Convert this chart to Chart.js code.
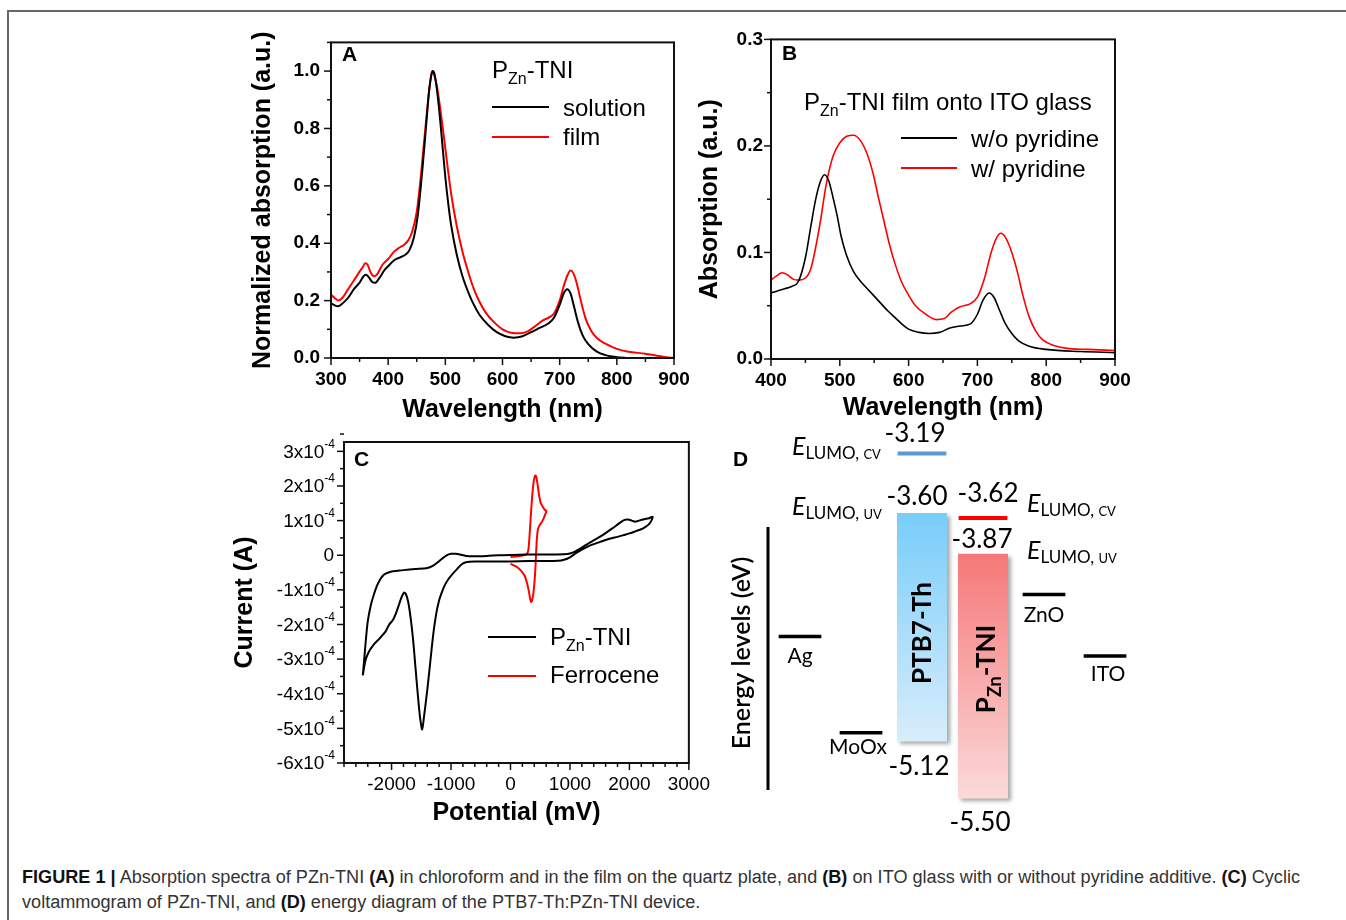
<!DOCTYPE html>
<html><head><meta charset="utf-8">
<script src="https://cdn.jsdelivr.net/npm/chart.js@4"></script>
<style>
html,body{margin:0;padding:0;background:#fff;}
body{width:1346px;height:920px;position:relative;overflow:hidden;font-family:"Liberation Sans",Arial,sans-serif;}
#frame{position:absolute;left:7px;top:10px;width:1345px;height:915px;border-top:2px solid #666;border-left:2px solid #666;}
canvas{position:absolute;}
.cap{position:absolute;left:22px;white-space:nowrap;font-size:18px;line-height:20px;color:#333;transform-origin:0 50%;font-family:"Liberation Sans Narrow","Liberation Sans",Arial,sans-serif;display:inline-block;}
.cap b{color:#111;}
</style></head><body>
<div id="frame"></div>
<canvas id="cA" width="480" height="415" style="left:220px;top:20px"></canvas>
<canvas id="cB" width="450" height="415" style="left:695px;top:20px"></canvas>
<canvas id="cC" width="495" height="410" style="left:225px;top:430px"></canvas>
<canvas id="cD" width="425" height="425" style="left:720px;top:415px"></canvas>
<div class="cap" id="cap1" style="top:867px"><b>FIGURE 1 |</b> Absorption spectra of PZn-TNI <b>(A)</b> in chloroform and in the film on the quartz plate, and <b>(B)</b> on ITO glass with or without pyridine additive. <b>(C)</b> Cyclic</div>
<div class="cap" id="cap2" style="top:892px">voltammogram of PZn-TNI, and <b>(D)</b> energy diagram of the PTB7-Th:PZn-TNI device.</div>
<script>
// ===== Panel A: normalized absorption =====
const solutionWavelength = [300,305,312,320,330,340,350,357,361,366,372,377,385,393,400,410,420,430,437,445,452,460,466,471,475,478,481,485,490,495,500,505,510,520,530,540,550,560,575,590,605,620,635,650,665,680,690,700,707,713,719,725,732,740,750,765,780,800,820];
const solutionAbs = [0.19,0.185,0.18,0.19,0.21,0.24,0.263,0.285,0.29,0.282,0.265,0.262,0.28,0.305,0.32,0.34,0.35,0.36,0.375,0.42,0.5,0.66,0.8,0.92,0.98,1.0,0.99,0.94,0.85,0.74,0.63,0.54,0.465,0.36,0.285,0.23,0.185,0.15,0.115,0.09,0.076,0.071,0.076,0.09,0.105,0.12,0.14,0.185,0.225,0.24,0.225,0.18,0.125,0.08,0.048,0.022,0.01,0.003,0];
const filmWavelength = [300,306,313,320,330,340,348,355,360,364,369,375,380,390,400,410,420,428,435,442,450,458,465,470,474,477,480,485,490,495,500,505,510,520,530,540,550,560,570,585,600,615,630,645,660,670,680,690,700,707,713,719,724,730,737,745,755,765,780,800,820,850,870,890,900];
const filmAbs = [0.22,0.21,0.2,0.21,0.24,0.27,0.295,0.315,0.33,0.325,0.3,0.285,0.29,0.325,0.345,0.37,0.385,0.395,0.41,0.44,0.51,0.65,0.8,0.9,0.97,1.0,0.99,0.95,0.885,0.81,0.73,0.65,0.575,0.46,0.37,0.3,0.24,0.195,0.16,0.125,0.1,0.088,0.086,0.094,0.115,0.13,0.14,0.155,0.2,0.25,0.285,0.305,0.295,0.26,0.2,0.14,0.095,0.07,0.05,0.032,0.022,0.015,0.008,0.002,0];
const ticksAX = [300,400,500,600,700,800,900];
const ticksAY = [0,0.2,0.4,0.6,0.8,1.0];

// ===== Panel B: absorption on ITO =====
const woPyWavelength = [400,410,420,430,440,450,458,465,472,478,484,490,496,502,510,520,530,540,550,560,570,580,590,600,615,630,645,660,675,690,700,708,717,724,732,740,750,760,775,800,850,900];
const woPyAbs = [0.062,0.064,0.066,0.068,0.073,0.095,0.125,0.15,0.167,0.173,0.167,0.152,0.135,0.115,0.097,0.082,0.073,0.066,0.059,0.052,0.045,0.039,0.033,0.028,0.025,0.024,0.025,0.029,0.031,0.033,0.042,0.055,0.062,0.058,0.046,0.034,0.024,0.017,0.012,0.009,0.007,0.006];
const wPyWavelength = [400,408,416,424,432,440,450,458,465,472,480,490,500,510,520,530,540,548,556,564,572,580,590,600,610,625,640,652,662,675,690,700,710,720,728,734,741,750,758,766,775,785,795,810,830,860,900];
const wPyAbs = [0.074,0.078,0.081,0.079,0.075,0.074,0.076,0.085,0.105,0.13,0.163,0.19,0.203,0.209,0.21,0.205,0.192,0.175,0.152,0.13,0.108,0.09,0.072,0.06,0.05,0.042,0.037,0.038,0.044,0.049,0.052,0.058,0.075,0.1,0.114,0.118,0.114,0.1,0.082,0.06,0.04,0.026,0.018,0.013,0.01,0.009,0.008];
const ticksBX = [400,500,600,700,800,900];
const ticksBY = [0,0.1,0.2,0.3];

// ===== Panel C: cyclic voltammetry =====
const pznPotential = [-2484,-2460,-2430,-2400,-2350,-2300,-2250,-2200,-2150,-2100,-2000,-1900,-1800,-1600,-1400,-1300,-1220,-1150,-1080,-1000,-920,-850,-750,-600,-400,-200,0,300,600,900,1000,1100,1200,1300,1400,1500,1600,1700,1780,1850,1920,1980,2040,2100,2160,2250,2330,2390,
  2370,2330,2270,2200,2100,2000,1900,1800,1700,1600,1500,1400,1300,1200,1100,1000,900,800,600,300,0,-300,-600,-750,-820,-900,-980,-1040,-1100,-1150,-1200,-1250,-1300,-1350,-1400,-1450,-1485,-1520,-1560,-1600,-1640,-1680,-1720,-1760,-1790,-1830,-1870,-1920,-1980,-2040,-2100,-2200,-2300,-2380,-2440,-2484];
const pznCurrent = [-3.47e-4,-3.0e-4,-2.4e-4,-1.9e-4,-1.45e-4,-1.15e-4,-0.9e-4,-0.72e-4,-0.6e-4,-0.53e-4,-0.47e-4,-0.45e-4,-0.43e-4,-0.4e-4,-0.37e-4,-0.3e-4,-0.2e-4,-0.1e-4,-0.01e-4,0.04e-4,0.04e-4,0.02e-4,-0.02e-4,-0.03e-4,-0.02e-4,0.0,0.01e-4,0.02e-4,0.02e-4,0.03e-4,0.05e-4,0.12e-4,0.22e-4,0.33e-4,0.43e-4,0.53e-4,0.64e-4,0.76e-4,0.86e-4,0.95e-4,1.02e-4,1.03e-4,1.0e-4,0.97e-4,1.0e-4,1.04e-4,1.07e-4,1.11e-4,
  1.0e-4,0.9e-4,0.82e-4,0.75e-4,0.69e-4,0.63e-4,0.58e-4,0.53e-4,0.49e-4,0.44e-4,0.38e-4,0.32e-4,0.25e-4,0.16e-4,0.06e-4,-0.06e-4,-0.13e-4,-0.16e-4,-0.17e-4,-0.17e-4,-0.18e-4,-0.18e-4,-0.18e-4,-0.2e-4,-0.26e-4,-0.4e-4,-0.55e-4,-0.68e-4,-0.85e-4,-1.05e-4,-1.3e-4,-1.7e-4,-2.3e-4,-3.1e-4,-3.9e-4,-4.6e-4,-5.03e-4,-4.7e-4,-4.0e-4,-3.2e-4,-2.4e-4,-1.8e-4,-1.35e-4,-1.12e-4,-1.08e-4,-1.2e-4,-1.4e-4,-1.65e-4,-1.88e-4,-2.0e-4,-2.2e-4,-2.4e-4,-2.58e-4,-2.78e-4,-3.05e-4,-3.47e-4];
const fcPotential = [0,120,220,275,300,318,335,352,370,392,415,432,455,480,510,550,585,604,585,540,495,462,445,432,420,405,385,360,345,330,310,285,240,180,100,0];
const fcCurrent = [-0.05e-4,-0.03e-4,0.0,0.04e-4,0.15e-4,0.5e-4,0.95e-4,1.4e-4,1.8e-4,2.15e-4,2.3e-4,2.28e-4,2.05e-4,1.75e-4,1.5e-4,1.38e-4,1.3e-4,1.28e-4,1.18e-4,1.0e-4,0.88e-4,0.75e-4,0.5e-4,0.1e-4,-0.35e-4,-0.75e-4,-1.1e-4,-1.32e-4,-1.35e-4,-1.25e-4,-1.05e-4,-0.85e-4,-0.6e-4,-0.45e-4,-0.33e-4,-0.25e-4];
const ticksCX = [-2000,-1000,0,1000,2000,3000];
const ticksCY = [-6e-4,-5e-4,-4e-4,-3e-4,-2e-4,-1e-4,0,1e-4,2e-4,3e-4];

// ===== Panel D: energy levels (eV) =====
const levelNames = ['Ag','MoOx','PTB7-Th','PZn-TNI','ZnO','ITO'];
const bandLUMO = [null,null,-3.60,-3.87,null,null];   // E_LUMO,UV
const bandHOMO = [null,null,-5.12,-5.50,null,null];
const electrodeLevel = [-4.41,-5.05,null,null,-4.13,-4.54];
const lumoCV = [null,null,-3.19,-3.62,null,null];

// ===== helpers =====
Chart.defaults.font.family = '"Liberation Sans", Arial, sans-serif';
Chart.defaults.color = '#000';
const pts = (xs, ys) => xs.map((x, i) => ({x, y: ys[i]}));
function rich(ctx, x, y, parts, align) {
  let w = 0;
  for (const p of parts) { ctx.font = p[1]; w += ctx.measureText(p[0]).width; }
  let cx = align === 'right' ? x - w : (align === 'center' ? x - w / 2 : x);
  ctx.textAlign = 'left';
  for (const p of parts) { ctx.font = p[1]; ctx.fillText(p[0], cx, y + (p[2] || 0)); cx += ctx.measureText(p[0]).width; }
  return w;
}
function seg(ctx, x1, y1, x2, y2, color, w) {
  ctx.beginPath(); ctx.strokeStyle = color; ctx.lineWidth = w; ctx.moveTo(x1, y1); ctx.lineTo(x2, y2); ctx.stroke();
}
function decorPlugin(o) {
  return {
    id: 'decor',
    afterDraw(chart) {
      const ctx = chart.ctx, a = chart.chartArea, xs = chart.scales.x, ys = chart.scales.y;
      ctx.save();
      ctx.strokeStyle = '#111'; ctx.lineWidth = 2;
      ctx.strokeRect(a.left, a.top, a.right - a.left, a.bottom - a.top);
      ctx.lineWidth = 1.5;
      const nx = Math.round((xs.max - o.xMinorStart) / o.xMinor + 1e-6);
      for (let i = 0; i <= nx; i++) {
        const v = o.xMinorStart + i * o.xMinor;
        const major = o.xTicks.some(t => Math.abs(t - v) < o.xMinor * 1e-3);
        const px = xs.getPixelForValue(v);
        seg(ctx, px, a.bottom, px, a.bottom + (major ? 7 : 4), '#111', 1.5);
      }
      const ny = Math.round((ys.max - o.yMinorStart) / o.yMinor + 1e-6);
      for (let i = 0; i <= ny; i++) {
        const v = o.yMinorStart + i * o.yMinor;
        const major = o.yTicks.some(t => Math.abs(t - v) < o.yMinor * 1e-3);
        const py = ys.getPixelForValue(v);
        seg(ctx, a.left, py, a.left - (major ? 7 : 4), py, '#111', 1.5);
      }
      ctx.translate(-o.ox, -o.oy);
      ctx.fillStyle = '#000'; ctx.textBaseline = 'alphabetic';
      if (o.extra) o.extra(ctx, chart, o.ox, o.oy);
      ctx.restore();
    }
  };
}
function lineChart(id, c) {
  return new Chart(document.getElementById(id), {
    type: 'scatter',
    data: {datasets: c.series.map(s => ({
      data: pts(s.x, s.y), borderColor: s.color, borderWidth: s.w, showLine: true,
      pointRadius: 0, pointHoverRadius: 0, fill: false,
      tension: s.tension, cubicInterpolationMode: s.mono ? 'monotone' : 'default'
    }))},
    options: {
      responsive: false, animation: false, devicePixelRatio: 1, events: [],
      layout: {padding: c.padding},
      plugins: {legend: {display: false}, tooltip: {enabled: false}},
      scales: {
        x: {
          type: 'linear', min: c.xMin, max: c.xMax,
          afterBuildTicks: s => { s.ticks = c.xTicks.map(v => ({value: v})); },
          afterFit: s => { s.height = c.xH; },
          grid: {display: false, drawTicks: false}, border: {display: false},
          ticks: {font: c.tickFont, color: '#000', padding: c.xPad, maxRotation: 0, minRotation: 0, autoSkip: false, callback: v => String(v)},
          title: {display: true, text: c.xTitle, font: {size: 25, weight: 'bold'}, color: '#000', padding: {top: 0, bottom: c.xTitlePad}}
        },
        y: {
          type: 'linear', min: c.yMin, max: c.yMax,
          afterBuildTicks: s => { s.ticks = c.yTicks.map(v => ({value: v})); },
          afterFit: s => { s.width = c.yW; },
          grid: {display: false, drawTicks: false}, border: {display: false},
          ticks: {display: c.yLabels !== false, font: c.tickFont, color: '#000', padding: c.yPad, autoSkip: false, callback: c.yFmt},
          title: {display: true, text: c.yTitle, font: {size: 25, weight: 'bold'}, color: '#000', padding: {top: c.yTitlePad, bottom: 0}}
        }
      }
    },
    plugins: [decorPlugin(c.decor)]
  });
}
const SUBF = '16px "Liberation Sans", Arial, sans-serif';
const LEGF = '24px "Liberation Sans", Arial, sans-serif';
const LETF = 'bold 21px "Liberation Sans", Arial, sans-serif';

// ===== Panel A =====
lineChart('cA', {
  series: [
    {x: solutionWavelength, y: solutionAbs, color: '#000', w: 2, tension: 0.4, mono: true},
    {x: filmWavelength, y: filmAbs, color: '#ff0000', w: 2, tension: 0.4, mono: true}
  ],
  padding: {left: 0, right: 26, top: 17, bottom: 0},
  xMin: 300, xMax: 900, yMin: 0, yMax: 1.1, xTicks: ticksAX, yTicks: ticksAY,
  xH: 77, yW: 111, xPad: 10, yPad: 11, tickFont: {size: 19, weight: 'bold'},
  yFmt: v => v.toFixed(1),
  xTitle: 'Wavelength (nm)', xTitlePad: 10, yTitle: 'Normalized absorption (a.u.)', yTitlePad: 28,
  decor: {ox: 220, oy: 20, xTicks: ticksAX, yTicks: ticksAY, xMinorStart: 300, xMinor: 50, yMinorStart: 0, yMinor: 0.1,
    extra(ctx) {
      ctx.font = LETF; ctx.fillText('A', 342, 61);
      rich(ctx, 492, 78, [['P', LEGF], ['Zn', SUBF, 6], ['-TNI', LEGF]]);
      seg(ctx, 492, 107, 549, 107, '#000', 2);
      seg(ctx, 492, 137, 549, 137, '#ff0000', 2);
      ctx.font = LEGF; ctx.fillText('solution', 563, 116); ctx.fillText('film', 563, 145);
    }}
});

// ===== Panel B =====
lineChart('cB', {
  series: [
    {x: woPyWavelength, y: woPyAbs, color: '#000', w: 1.6, tension: 0.4, mono: true},
    {x: wPyWavelength, y: wPyAbs, color: '#ff0000', w: 1.6, tension: 0.4, mono: true}
  ],
  padding: {left: 0, right: 30, top: 17, bottom: 0},
  xMin: 400, xMax: 900, yMin: 0, yMax: 0.3, xTicks: ticksBX, yTicks: ticksBY,
  xH: 76, yW: 76, xPad: 10, yPad: 8, tickFont: {size: 19, weight: 'bold'},
  yFmt: v => v.toFixed(1),
  xTitle: 'Wavelength (nm)', xTitlePad: 12, yTitle: 'Absorption (a.u.)', yTitlePad: 0,
  decor: {ox: 695, oy: 20, xTicks: ticksBX, yTicks: ticksBY, xMinorStart: 400, xMinor: 50, yMinorStart: 0, yMinor: 0.05,
    extra(ctx) {
      ctx.font = LETF; ctx.fillText('B', 782, 60);
      rich(ctx, 804, 110, [['P', LEGF], ['Zn', SUBF, 6], ['-TNI film onto ITO glass', LEGF]]);
      seg(ctx, 901, 138, 957, 138, '#000', 2);
      seg(ctx, 901, 168, 957, 168, '#ff0000', 2);
      ctx.font = LEGF; ctx.fillText('w/o pyridine', 971, 147); ctx.fillText('w/ pyridine', 971, 177);
    }}
});

// ===== Panel C =====
lineChart('cC', {
  series: [
    {x: pznPotential, y: pznCurrent, color: '#000', w: 2, tension: 0.25},
    {x: fcPotential, y: fcCurrent, color: '#ff0000', w: 2, tension: 0.25}
  ],
  padding: {left: 0, right: 25, top: 12, bottom: 0},
  xMin: -2800, xMax: 3000, yMin: -6e-4, yMax: 3.27e-4, xTicks: ticksCX, yTicks: ticksCY,
  xH: 77, yW: 119, xPad: 10, yPad: 10, tickFont: {size: 19}, yLabels: false,
  yFmt: v => v,
  xTitle: 'Potential (mV)', xTitlePad: 12, yTitle: 'Current (A)', yTitlePad: 5,
  decor: {ox: 225, oy: 430, xTicks: ticksCX, yTicks: ticksCY, xMinorStart: -2800, xMinor: 200, yMinorStart: -6e-4, yMinor: 0.5e-4,
    extra(ctx, chart, ox, oy) {
      const ys = chart.scales.y, a = chart.chartArea;
      const MF = '19px "Liberation Sans", Arial, sans-serif', SF = '12px "Liberation Sans", Arial, sans-serif';
      ctx.textBaseline = 'middle';
      for (const v of ticksCY) {
        const py = ys.getPixelForValue(v) + oy + 1;
        const n = Math.round(v * 1e4);
        if (n === 0) rich(ctx, a.left + ox - 10, py, [['0', MF]], 'right');
        else rich(ctx, a.left + ox - 9, py, [[n + 'x10', MF], ['-4', SF, -8]], 'right');
      }
      ctx.textBaseline = 'alphabetic';
      ctx.font = LETF; ctx.fillText('C', 354, 466);
      seg(ctx, 488, 637, 536, 637, '#000', 2);
      seg(ctx, 488, 676, 536, 676, '#ff0000', 2);
      rich(ctx, 550, 645, [['P', LEGF], ['Zn', SUBF, 6], ['-TNI', LEGF]]);
      ctx.font = LEGF; ctx.fillText('Ferrocene', 550, 683);
    }}
});

// ===== Panel D =====
const DX = 720, DY = 415;
const bandColors = {2: ['rgb(120,205,250)', 'rgb(216,237,251)'], 3: ['rgb(246,120,120)', 'rgb(251,218,218)']};
function bandFill(c) {
  const chart = c.chart, i = c.dataIndex;
  if (i === undefined || !bandColors[i] || !chart.scales.y) return '#ccc';
  const y = chart.scales.y;
  const t = y.getPixelForValue(bandLUMO[i]), b = y.getPixelForValue(bandHOMO[i]);
  if (!isFinite(t) || !isFinite(b)) return bandColors[i][0];
  const g = chart.ctx.createLinearGradient(0, t, 0, b);
  g.addColorStop(0, bandColors[i][0]); g.addColorStop(1, bandColors[i][1]);
  return g;
}
const shadowPlugin = {
  id: 'bandShadow',
  beforeDatasetDraw(chart, args) {
    if (args.index !== 0) return;
    const ctx = chart.ctx; ctx.save();
    ctx.shadowColor = 'rgba(0,0,0,0.35)'; ctx.shadowBlur = 4; ctx.shadowOffsetX = 3; ctx.shadowOffsetY = 3;
  },
  afterDatasetDraw(chart, args) { if (args.index === 0) chart.ctx.restore(); }
};
const LAT = (s, w) => (w || '') + ' ' + s + 'px Lato, "Open Sans", sans-serif';
const dDecor = {
  id: 'dDecor',
  afterDraw(chart) {
    const ctx = chart.ctx, ys = chart.scales.y;
    const Y = E => ys.getPixelForValue(E) + DY;
    ctx.save(); ctx.translate(-DX, -DY);
    ctx.fillStyle = '#000'; ctx.textBaseline = 'alphabetic';
    // vertical energy axis line
    seg(ctx, 768, 527, 768, 790, '#000', 3);
    ctx.save(); ctx.translate(750, 653); ctx.rotate(-Math.PI / 2);
    ctx.font = LAT(25, '600'); ctx.textAlign = 'center'; ctx.fillText('Energy levels (eV)', 0, 0); ctx.restore();
    ctx.font = LETF; ctx.textAlign = 'left'; ctx.fillText('D', 733, 466);
    // value labels
    const NF = LAT(26);
    ctx.font = NF; ctx.textAlign = 'center';
    ctx.fillText(lumoCV[2].toFixed(2), 915, Y(lumoCV[2]) - 10);
    ctx.fillText(bandLUMO[2].toFixed(2), 917, Y(bandLUMO[2]) - 8);
    ctx.fillText(bandHOMO[2].toFixed(2), 919, Y(bandHOMO[2]) + 34);
    ctx.fillText(lumoCV[3].toFixed(2), 988, Y(lumoCV[3]) - 14);
    ctx.fillText(bandLUMO[3].toFixed(2), 982, Y(bandLUMO[3]) - 6);
    ctx.fillText(bandHOMO[3].toFixed(2), 980, Y(bandHOMO[3]) + 33);
    // E_LUMO labels
    const EF = 'italic ' + LAT(25), SF1 = LAT(17), SF2 = LAT(13);
    rich(ctx, 792, Y(lumoCV[2]) + 3, [['E', EF], ['LUMO, ', SF1, 4], ['CV', SF2, 4]]);
    rich(ctx, 792, Y(bandLUMO[2]) + 2, [['E', EF], ['LUMO, ', SF1, 4], ['UV', SF2, 4]]);
    rich(ctx, 1027, Y(lumoCV[3]) - 4, [['E', EF], ['LUMO, ', SF1, 4], ['CV', SF2, 4]]);
    rich(ctx, 1027, Y(bandLUMO[3]) + 5, [['E', EF], ['LUMO, ', SF1, 4], ['UV', SF2, 4]]);
    // electrode names
    ctx.font = LAT(21); ctx.textAlign = 'center';
    ctx.fillText(levelNames[0], 800, Y(electrodeLevel[0]) + 28);
    ctx.fillText(levelNames[1], 858, Y(electrodeLevel[1]) + 23);
    ctx.fillText(levelNames[4], 1044, Y(electrodeLevel[4]) + 29);
    ctx.fillText(levelNames[5], 1108, Y(electrodeLevel[5]) + 27);
    // rotated material names
    ctx.save(); ctx.translate(931, 633); ctx.rotate(-Math.PI / 2);
    ctx.font = LAT(26, 'bold'); ctx.textAlign = 'center'; ctx.fillText(levelNames[2], 0, 0); ctx.restore();
    ctx.save(); ctx.translate(995, 669); ctx.rotate(-Math.PI / 2);
    rich(ctx, 0, 0, [['P', LAT(26, 'bold')], ['Zn', LAT(18, 'bold'), 6], ['-TNI', LAT(26, 'bold')]], 'center');
    ctx.restore();
    ctx.restore();
  }
};
new Chart(document.getElementById('cD'), {
  type: 'bar',
  data: {
    labels: levelNames,
    datasets: [
      {label: 'bands', data: levelNames.map((_, i) => bandLUMO[i] == null ? null : [bandLUMO[i], bandHOMO[i]]),
        backgroundColor: bandFill, borderWidth: 0, barPercentage: 0.82, categoryPercentage: 1, grouped: false},
      {label: 'electrodes', data: electrodeLevel.map(v => v == null ? null : [v, v]),
        backgroundColor: '#000', borderWidth: 0, barPercentage: 0.70, categoryPercentage: 1, grouped: false, minBarLength: 3.5},
      {label: 'LUMO (CV)', data: lumoCV.map(v => v == null ? null : [v, v]),
        backgroundColor: ['#000', '#000', '#5b9bd5', '#ff0000', '#000', '#000'], borderWidth: 0, barPercentage: 0.80, categoryPercentage: 1, grouped: false, minBarLength: 4}
    ]
  },
  options: {
    responsive: false, animation: false, devicePixelRatio: 1, events: [],
    layout: {padding: {left: 49.5, right: 9.5, top: 5, bottom: 10}},
    plugins: {legend: {display: false}, tooltip: {enabled: false}},
    scales: {x: {display: false}, y: {display: false, min: -5.71, max: -2.98}}
  },
  plugins: [shadowPlugin, dDecor]
});

// ===== caption fit =====
const c1 = document.getElementById('cap1'), c2 = document.getElementById('cap2');
const s = 1278 / c1.getBoundingClientRect().width;
c1.style.transform = 'scaleX(' + s + ')'; c2.style.transform = 'scaleX(' + s + ')';
</script>
</body></html>
